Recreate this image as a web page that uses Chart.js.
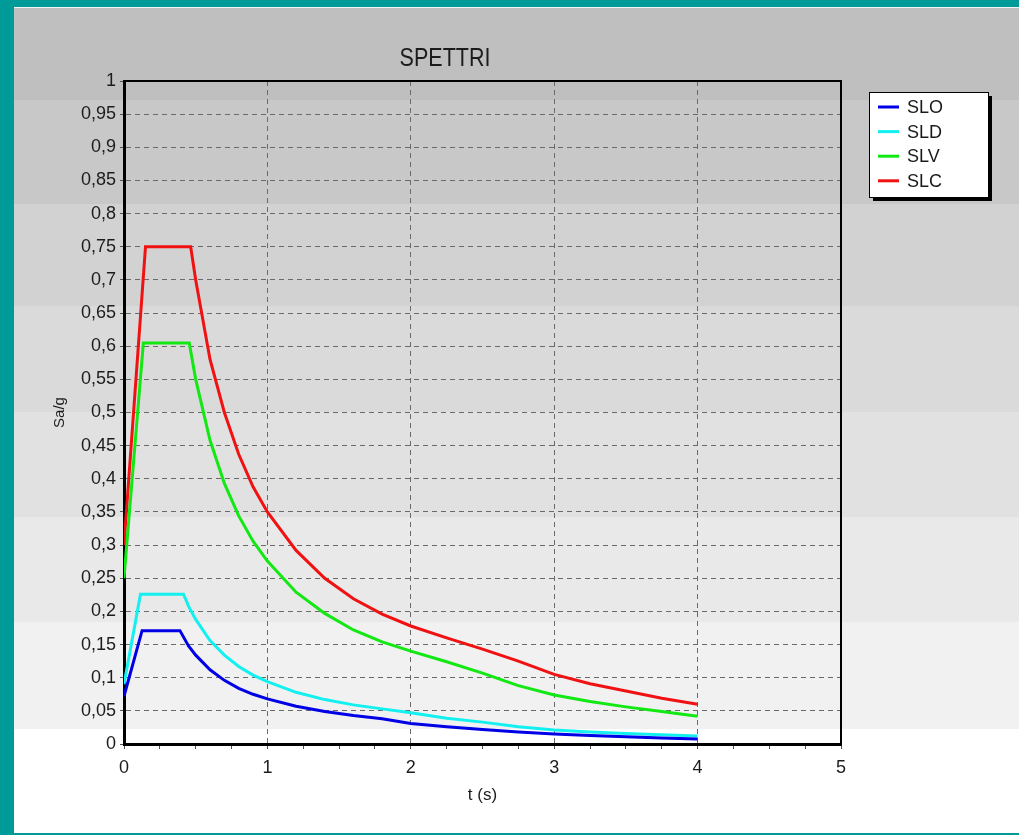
<!DOCTYPE html>
<html>
<head>
<meta charset="utf-8">
<title>SPETTRI</title>
<script src="https://cdn.jsdelivr.net/npm/chart.js@4/dist/chart.umd.min.js"></script>
<style>
  html, body { margin: 0; padding: 0; overflow: hidden; background: #009b98; }
  canvas { display: block; }
</style>
</head>
<body>
<canvas id="spettri" width="1019" height="835"></canvas>
<script>
// periods (s) and spectral values Sa/g
const tSLO = [0, 0.126, 0.39, 0.45, 0.5, 0.6, 0.7, 0.8, 0.9, 1.0, 1.2, 1.4, 1.6, 1.8, 2.0, 2.25, 2.5, 2.75, 3.0, 3.25, 3.5, 3.75, 4.0];
const sloValues = [0.072, 0.171, 0.171, 0.148, 0.134, 0.112, 0.096, 0.084, 0.075, 0.068, 0.057, 0.049, 0.043, 0.038, 0.031, 0.026, 0.022, 0.018, 0.015, 0.013, 0.011, 0.009, 0.0075];

const tSLD = [0, 0.115, 0.415, 0.45, 0.5, 0.6, 0.7, 0.8, 0.9, 1.0, 1.2, 1.4, 1.6, 1.8, 2.0, 2.25, 2.5, 2.75, 3.0, 3.25, 3.5, 3.75, 4.0];
const sldValues = [0.09, 0.226, 0.226, 0.208, 0.188, 0.156, 0.134, 0.117, 0.104, 0.094, 0.078, 0.067, 0.059, 0.053, 0.047, 0.039, 0.033, 0.026, 0.021, 0.018, 0.016, 0.014, 0.012];

const tSLV = [0, 0.135, 0.455, 0.5, 0.6, 0.7, 0.8, 0.9, 1.0, 1.2, 1.4, 1.6, 1.8, 2.0, 2.25, 2.5, 2.75, 3.0, 3.25, 3.5, 3.75, 4.0];
const slvValues = [0.25, 0.605, 0.605, 0.55, 0.458, 0.393, 0.344, 0.306, 0.276, 0.229, 0.197, 0.172, 0.154, 0.14, 0.124, 0.107, 0.088, 0.074, 0.064, 0.056, 0.049, 0.042];

const tSLC = [0, 0.15, 0.465, 0.5, 0.6, 0.7, 0.8, 0.9, 1.0, 1.2, 1.4, 1.6, 1.8, 2.0, 2.25, 2.5, 2.75, 3.0, 3.25, 3.5, 3.75, 4.0];
const slcValues = [0.30, 0.75, 0.75, 0.70, 0.58, 0.50, 0.437, 0.388, 0.35, 0.292, 0.25, 0.219, 0.196, 0.178, 0.16, 0.143, 0.125, 0.105, 0.091, 0.080, 0.069, 0.06];

const seriesNames = ['SLO', 'SLD', 'SLV', 'SLC'];
const seriesColors = ['#0000e6', '#12f0f0', '#12e812', '#f01212'];
const seriesT = [tSLO, tSLD, tSLV, tSLC];
const seriesY = [sloValues, sldValues, slvValues, slcValues];

const chartTitle = 'SPETTRI';
const xTitle = 't (s)';
const yTitle = 'Sa/g';

const FONT = '"Liberation Sans", Arial, sans-serif';

// gray banded background + teal frame, like the original window
const panelPlugin = {
  id: 'panel',
  beforeDraw(chart) {
    const ctx = chart.ctx;
    ctx.save();
    ctx.fillStyle = '#009b98';
    ctx.fillRect(0, 0, chart.width, chart.height);
    const edges = [8, 100, 204, 306, 412, 517, 622, 729, 833];
    const shades = ['#bfbfbf', '#c8c8c8', '#d2d2d2', '#dadada', '#e1e1e1', '#e9e9e9', '#f1f1f1', '#ffffff'];
    for (let i = 0; i < shades.length; i++) {
      ctx.fillStyle = shades[i];
      ctx.fillRect(14, edges[i], chart.width - 14, edges[i + 1] - edges[i]);
    }
    ctx.fillStyle = '#f4f4f4';
    ctx.fillRect(14, 7, chart.width - 14, 1);
    ctx.restore();
  },
  beforeDatasetsDraw(chart) {
    const {ctx, chartArea: a} = chart;
    ctx.save();
    ctx.strokeStyle = '#000';
    ctx.lineWidth = 2;
    ctx.beginPath();
    ctx.moveTo(a.left, a.top);
    ctx.lineTo(a.right, a.top);
    ctx.lineTo(a.right, a.bottom);
    ctx.stroke();
    ctx.restore();
  },
  afterDraw(chart) {
    const ctx = chart.ctx;
    ctx.save();
    // title
    ctx.fillStyle = '#1c1c1c';
    ctx.font = '25px ' + FONT;
    ctx.textAlign = 'center';
    ctx.textBaseline = 'alphabetic';
    ctx.translate(445, 66);
    ctx.scale(0.86, 1);
    ctx.fillText(chartTitle, 0, 0);
    ctx.restore();

    // legend box with drop shadow
    ctx.save();
    const bx = 869, by = 92, bw = 119, bh = 105;
    ctx.fillStyle = '#000';
    ctx.fillRect(bx + 4, by + 4, bw, bh);
    ctx.fillStyle = '#fff';
    ctx.fillRect(bx, by, bw, bh);
    ctx.strokeStyle = '#000';
    ctx.lineWidth = 1;
    ctx.strokeRect(bx + 0.5, by + 0.5, bw, bh);
    ctx.font = '18px ' + FONT;
    ctx.textAlign = 'left';
    ctx.textBaseline = 'middle';
    chart.data.datasets.forEach((ds, i) => {
      const y = 107 + i * 24.6;
      ctx.strokeStyle = ds.borderColor;
      ctx.lineWidth = 3;
      ctx.beginPath();
      ctx.moveTo(878, y);
      ctx.lineTo(899, y);
      ctx.stroke();
      ctx.fillStyle = '#1a1a1a';
      ctx.fillText(ds.label, 907, y + 1);
    });
    ctx.restore();
  }
};

const datasets = seriesNames.map((name, i) => ({
  label: name,
  data: seriesT[i].map((t, j) => ({x: t, y: seriesY[i][j]})),
  borderColor: seriesColors[i],
  backgroundColor: seriesColors[i],
  borderWidth: 3,
  pointRadius: 0,
  tension: 0,
  fill: false
}));

const isWhole = v => Math.abs(v - Math.round(v)) < 1e-6;

new Chart(document.getElementById('spettri'), {
  type: 'line',
  data: { datasets },
  options: {
    responsive: false,
    animation: false,
    devicePixelRatio: 1,
    layout: { padding: { left: 47, right: 178, top: 81, bottom: 25 } },
    plugins: {
      legend: { display: false },
      title: { display: false },
      tooltip: { enabled: false }
    },
    scales: {
      x: {
        type: 'linear',
        min: 0,
        max: 5,
        afterFit(scale) { scale.height = 66; },
        ticks: {
          stepSize: 0.25,
          autoSkip: false,
          maxRotation: 0,
          padding: 8,
          color: '#1c1c1c',
          font: { family: FONT, size: 18 },
          callback: v => isWhole(v) ? String(Math.round(v)) : ''
        },
        grid: {
          color: c => (c.tick && isWhole(c.tick.value) && c.tick.value > 0 && c.tick.value < 5) ? '#6a6a6a' : 'transparent',
          tickColor: '#555',
          tickLength: 5,
          lineWidth: 1
        },
        border: { color: '#000', width: 3, dash: [5, 4] },
        title: {
          display: true,
          text: xTitle,
          color: '#1c1c1c',
          font: { family: FONT, size: 17 }
        }
      },
      y: {
        type: 'linear',
        min: 0,
        max: 1,
        afterFit(scale) { scale.width = 77; },
        ticks: {
          stepSize: 0.05,
          autoSkip: false,
          padding: 4,
          color: '#1c1c1c',
          font: { family: FONT, size: 18 },
          callback: v => String(Math.round(v * 100) / 100).replace('.', ',')
        },
        grid: {
          color: c => (c.tick && c.tick.value > 0.001 && c.tick.value < 0.999) ? '#6a6a6a' : 'transparent',
          tickColor: '#555',
          tickLength: 4,
          lineWidth: 1
        },
        border: { color: '#000', width: 3, dash: [5, 4] },
        title: {
          display: true,
          text: yTitle,
          color: '#1c1c1c',
          font: { family: FONT, size: 15 }
        }
      }
    }
  },
  plugins: [panelPlugin]
});
</script>
</body>
</html>
